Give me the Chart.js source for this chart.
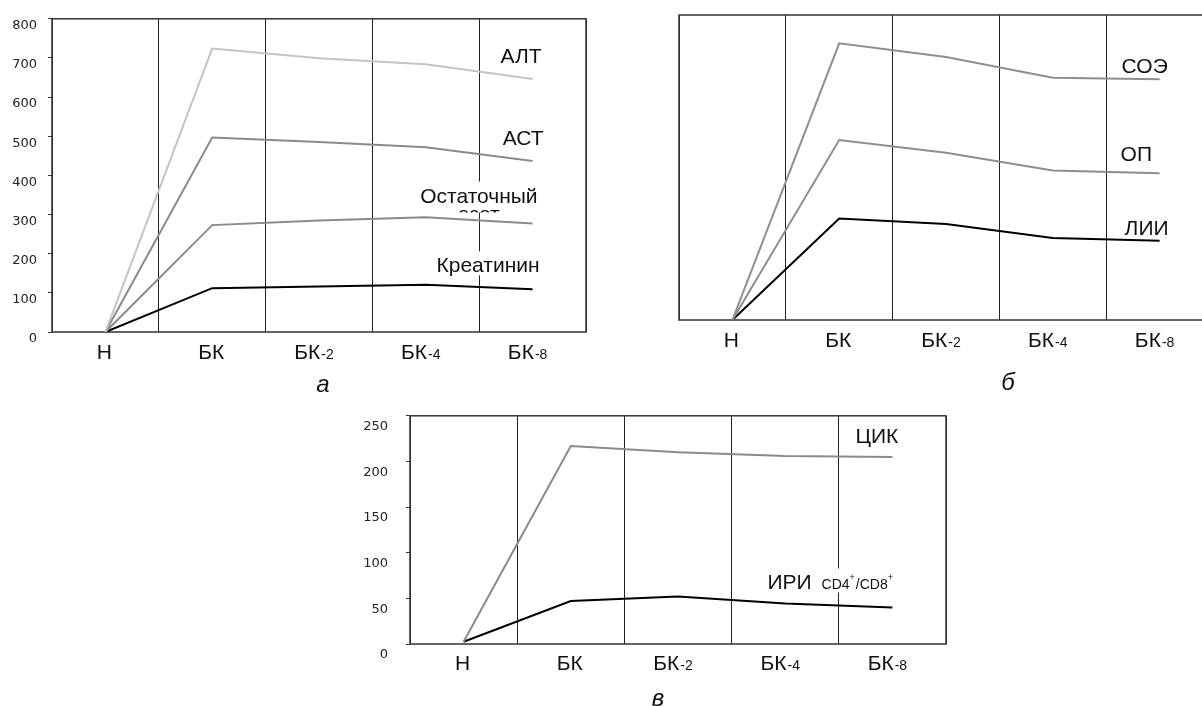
<!DOCTYPE html>
<html>
<head>
<meta charset="utf-8">
<script src="https://cdn.jsdelivr.net/npm/chart.js@4.4.1/dist/chart.umd.min.js"></script>
<style>
    html, body { margin: 0; padding: 0; background: #fff; overflow: hidden; width: 1202px; height: 706px; }
    canvas { position: absolute; }
</style>
</head>
<body>
<canvas id="chartA" width="600" height="400" style="left:0;top:0"></canvas>
<canvas id="chartB" width="620" height="400" style="left:600px;top:0"></canvas>
<canvas id="chartC" width="620" height="316" style="left:340px;top:390px"></canvas>
<script>
// categories (time points)
const categories = ['Н', 'БК', 'БК-2', 'БК-4', 'БК-8'];

// panel а
const altValues = [0, 724, 699, 684, 646];
const astValues = [0, 497, 485, 472, 437];
const nitrogenValues = [0, 273, 285, 293, 277];
const creatinineValues = [0, 112, 116, 121, 109];
const yTicksA = [0, 100, 200, 300, 400, 500, 600, 700, 800];

// panel б (no scale shown)
const esrValues = [0, 90.7, 86.2, 79.4, 78.9];
const proteinValues = [0, 59.0, 54.8, 49.0, 48.1];
const liiValues = [0, 33.3, 31.5, 26.9, 26.0];

// panel в
const cicValues = [2.5, 217, 210, 206, 205];
const iriValues = [2.5, 47, 52, 44.5, 40];
const yTicksC = [0, 50, 100, 150, 200, 250];

const textFont = "'Liberation Sans', Arial, sans-serif";

const decorPlugin = {
    id: 'decor',
    beforeDatasetsDraw(chart) {
        const ctx = chart.ctx;
        const a = chart.chartArea;
        ctx.save();
        ctx.strokeStyle = '#333';
        ctx.lineWidth = 1.5;
        ctx.strokeRect(a.left, a.top, a.right - a.left, a.bottom - a.top);
        ctx.restore();
    },
    afterDraw(chart, args, opts) {
        const ctx = chart.ctx;
        const a = chart.chartArea;
        const xs = chart.scales.x;
        ctx.save();
        ctx.fillStyle = '#111';
        ctx.textBaseline = 'alphabetic';

        // category labels with small index after the dash
        chart.data.labels.forEach(function (lab, i) {
            const parts = lab.split('-');
            ctx.font = '21px ' + textFont;
            const w1 = ctx.measureText(parts[0]).width;
            let w2 = 0;
            let sub = '';
            if (parts.length > 1) {
                sub = '-' + parts[1];
                ctx.font = '14px ' + textFont;
                w2 = ctx.measureText(sub).width + 1;
            }
            let x = xs.getPixelForValue(i) - (w1 + w2) / 2 + (sub ? -5 : -1);
            const y = a.bottom + opts.labelGap;
            ctx.font = '21px ' + textFont;
            ctx.textAlign = 'left';
            ctx.fillText(parts[0], x, y);
            if (sub) {
                ctx.font = '14px ' + textFont;
                ctx.fillText(sub, x + w1 + 1, y);
            }
        });

        // series names next to the lines
        (opts.names || []).forEach(function (n) {
            const meta = chart.getDatasetMeta(n.dataset);
            const last = meta.data[meta.data.length - 1];
            ctx.font = '21px ' + textFont;
            const w = ctx.measureText(n.text).width;
            let extra = 0;
            if (n.small) {
                ctx.font = '14px ' + textFont;
                extra = ctx.measureText(n.small).width + 14;
                ctx.font = '21px ' + textFont;
            }
            const left = n.align === 'right' ? last.x + n.dx - w - extra : last.x + n.dx;
            const cy = last.y + n.dy;
            ctx.fillStyle = '#fff';
            ctx.fillRect(left - 2, cy - 13, w + extra + 4, n.clipped ? 31 : 24);
            ctx.fillStyle = '#111';
            ctx.textAlign = 'left';
            ctx.fillText(n.text, left, cy + 8);
            if (n.small) {
                const parts = n.small.split('/');
                let sx = left + w + 10;
                parts.forEach(function (p, k) {
                    ctx.font = '14px ' + textFont;
                    const t = (k > 0 ? '/' : '') + p;
                    ctx.fillText(t, sx, cy + 8);
                    sx += ctx.measureText(t).width;
                    ctx.font = '9px ' + textFont;
                    ctx.fillText('+', sx, cy - 1);
                    sx += ctx.measureText('+').width + 1;
                });
            }
            if (n.clipped) {
                // second line of the label, mostly hidden under the box edge
                ctx.save();
                ctx.beginPath();
                ctx.rect(left, cy + 14, w, 4);
                ctx.clip();
                ctx.font = '21px ' + textFont;
                ctx.textAlign = 'center';
                ctx.fillText(n.clipped, left + w / 2, cy + 26);
                ctx.restore();
            }
        });

        // panel letter
        if (opts.letter) {
            ctx.font = 'italic 24px ' + textFont;
            ctx.textAlign = 'center';
            ctx.fillStyle = '#111';
            ctx.fillText(opts.letter.text, opts.letter.x, opts.letter.y);
        }
        ctx.restore();
    }
};

function line(data, color) {
    return {
        data: data,
        borderColor: color,
        borderWidth: 2,
        pointRadius: 0,
        tension: 0,
        fill: false
    };
}

function xAxis(height) {
    return {
        type: 'category',
        offset: true,
        grid: { offset: true, color: '#222', lineWidth: 1, drawTicks: false },
        border: { display: false },
        ticks: { display: false },
        afterFit: function (s) { s.height = height; }
    };
}

function yAxis(max, tickList, width, labelOffset, padding) {
    return {
        min: 0,
        max: max,
        grid: { drawOnChartArea: false, drawTicks: true, tickLength: 4, color: '#333' },
        border: { display: false },
        afterBuildTicks: function (s) { s.ticks = tickList.map(function (v) { return { value: v }; }); },
        ticks: {
            color: '#222',
            font: { family: 'DejaVu Sans', size: 13 },
            labelOffset: labelOffset,
            padding: padding
        },
        afterFit: function (s) { s.width = width; }
    };
}

const baseOptions = {
    responsive: false,
    animation: false,
    devicePixelRatio: 1,
    events: []
};

new Chart(document.getElementById('chartA').getContext('2d'), {
    type: 'line',
    data: {
        labels: categories,
        datasets: [
            line(altValues, '#c4c4c4'),
            line(astValues, '#8a8a8a'),
            line(nitrogenValues, '#8a8a8a'),
            line(creatinineValues, '#000')
        ]
    },
    options: Object.assign({}, baseOptions, {
        layout: { padding: { top: 15, right: 14, left: 0, bottom: 0 } },
        scales: {
            x: xAxis(68),
            y: yAxis(800, yTicksA, 52, 7, 11)
        },
        plugins: {
            legend: { display: false },
            tooltip: { enabled: false },
            decor: {
                labelGap: 27,
                names: [
                    { dataset: 0, text: 'АЛТ', align: 'right', dx: 9, dy: -24 },
                    { dataset: 1, text: 'АСТ', align: 'right', dx: 11, dy: -24 },
                    { dataset: 2, text: 'Остаточный', clipped: 'азот', align: 'right', dx: 5, dy: -29 },
                    { dataset: 3, text: 'Креатинин', align: 'right', dx: 7, dy: -25 }
                ],
                letter: { text: 'а', x: 323, y: 392 }
            }
        }
    }),
    plugins: [decorPlugin]
});

new Chart(document.getElementById('chartB').getContext('2d'), {
    type: 'line',
    data: {
        labels: categories,
        datasets: [
            line(esrValues, '#8e8e8e'),
            line(proteinValues, '#8e8e8e'),
            line(liiValues, '#000')
        ]
    },
    options: Object.assign({}, baseOptions, {
        layout: { padding: { top: 15, right: 7, left: 79, bottom: 0 } },
        scales: {
            x: xAxis(80),
            y: { display: false, min: 0, max: 100 }
        },
        plugins: {
            legend: { display: false },
            tooltip: { enabled: false },
            decor: {
                labelGap: 27,
                names: [
                    { dataset: 0, text: 'СОЭ', align: 'left', dx: -38, dy: -14 },
                    { dataset: 1, text: 'ОП', align: 'left', dx: -39, dy: -20 },
                    { dataset: 2, text: 'ЛИИ', align: 'left', dx: -35, dy: -14 }
                ],
                letter: { text: 'б', x: 408, y: 390 }
            }
        }
    }),
    plugins: [decorPlugin]
});

new Chart(document.getElementById('chartC').getContext('2d'), {
    type: 'line',
    data: {
        labels: categories,
        datasets: [
            line(cicValues, '#8a8a8a'),
            line(iriValues, '#000')
        ]
    },
    options: Object.assign({}, baseOptions, {
        layout: { padding: { top: 18, right: 14, left: 0, bottom: 0 } },
        scales: {
            x: xAxis(62),
            y: yAxis(250, yTicksC, 70, 11, 18)
        },
        plugins: {
            legend: { display: false },
            tooltip: { enabled: false },
            decor: {
                labelGap: 26,
                names: [
                    { dataset: 0, text: 'ЦИК', align: 'left', dx: -37, dy: -22 },
                    { dataset: 1, text: 'ИРИ', small: 'CD4/CD8', align: 'left', dx: -125, dy: -26 }
                ],
                letter: { text: 'в', x: 318, y: 316 }
            }
        }
    }),
    plugins: [decorPlugin]
});
</script>
</body>
</html>
